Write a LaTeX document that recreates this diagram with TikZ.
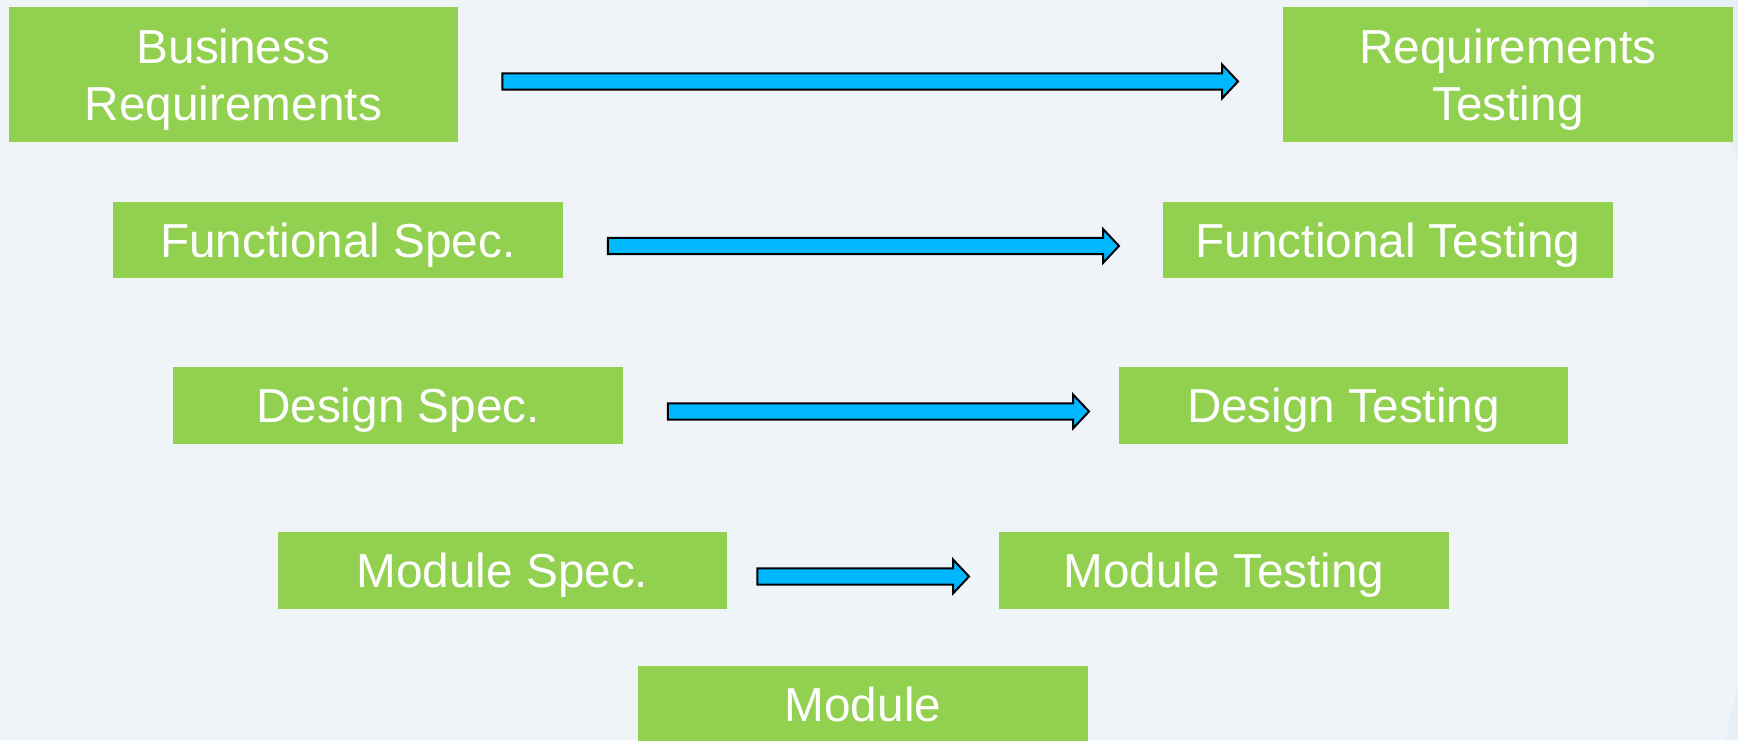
\documentclass[tikz,border=0pt]{standalone}
\usepackage{fontspec}
\setmainfont{Liberation Sans}
\usetikzlibrary{calc}
\definecolor{bgc}{RGB}{239,244,249}
\definecolor{bgshade}{RGB}{230,238,246}
\definecolor{boxgreen}{RGB}{146,208,80}
\definecolor{arrblue}{RGB}{0,184,255}
\tikzset{
  box/.style={anchor=north west, fill=boxgreen, draw=none, minimum width=449.5pt,
    minimum height=76.5pt, inner sep=0pt, align=center, text=white,
    font=\fontsize{47.7pt}{56.6pt}\selectfont, text depth=0pt},
  onebox/.style={box, text height=34.2pt},
  twobox/.style={box, minimum height=135.5pt},
  arr/.style={fill=arrblue, draw=black, line width=2pt, line join=miter}
}
\newcommand{\blockarrow}[5]{%
  \coordinate (s#1#3) at ($(#1.east)+(#2,#5)$);
  \coordinate (t#1#3) at ($(#3.west)+(-#4,#5)$);
  \draw[arr] let \p1=(s#1#3), \p2=(t#1#3) in
    (\x1,\y1+8.2pt) -- (\x2-16pt,\y2+8.2pt) -- (\x2-16pt,\y2+17pt) -- (\x2,\y2)
    -- (\x2-16pt,\y2-17pt) -- (\x2-16pt,\y2-8.2pt) -- (\x1,\y1-8.2pt) -- cycle;
}
\begin{document}
\begin{tikzpicture}[x=1pt,y=-1pt]
\useasboundingbox (0,0) rectangle (1738,740);
\fill[bgc] (0,0) rectangle (1738,740);
\fill[bgshade] (1647,0) -- (1738,0) -- (1738,158) .. controls (1700,90) .. cycle;
\fill[bgshade] (1738,690) -- (1738,740) -- (1726,740) .. controls (1730,715) .. cycle;
\clip (0,0) rectangle (1738,740);

\node[twobox] (br) at (8.5,6.5) {Business\\Requirements};
\node[twobox] (rt) at (1283,6.5) {Requirements\\Testing};
\node[onebox] (fs) at (113,201.5) {Functional Spec.};
\node[onebox] (ft) at (1163,201.5) {Functional Testing};
\node[onebox] (ds) at (173,367) {Design Spec.};
\node[onebox] (dt) at (1118.5,367) {Design Testing};
\node[onebox] (ms) at (277.5,532) {Module Spec.};
\node[onebox] (mt) at (999,532) {Module Testing};
\node[onebox] (mod) at (638,666) {Module};

\blockarrow{br}{44}{rt}{45}{7}
\blockarrow{fs}{45}{ft}{44}{6}
\blockarrow{ds}{45}{dt}{29.5}{6}
\blockarrow{ms}{30}{mt}{30}{6}
\end{tikzpicture}
\end{document}
